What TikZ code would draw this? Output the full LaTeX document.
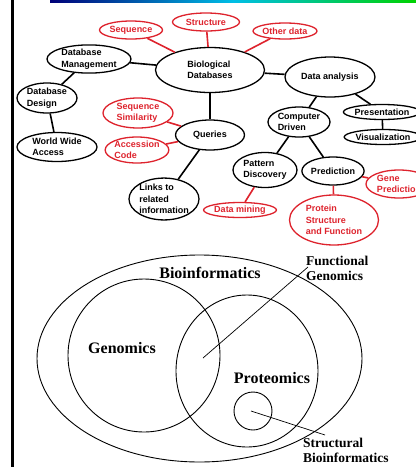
\documentclass[tikz,border=0pt]{standalone}
\usepackage{fontspec}
\setmainfont{Liberation Serif}
\setsansfont{Liberation Sans}
\usetikzlibrary{shapes.geometric}
\definecolor{ccred}{RGB}{222,35,45}
\definecolor{navyb}{RGB}{0,0,120}
\definecolor{cyanb}{RGB}{0,190,230}
\definecolor{greenb}{RGB}{0,210,0}
\newcommand\topf{\sffamily\bfseries\fontsize{9}{11.5}\selectfont}
\newcommand\bigf{\rmfamily\bfseries\fontsize{16}{18}\selectfont}
\newcommand\smf{\rmfamily\bfseries\fontsize{13.5}{15}\selectfont}
\tikzset{
  bk/.style={ellipse, draw=black, line width=1.3pt, inner sep=0pt, font=\topf, align=left},
  rd/.style={ellipse, draw=ccred, text=ccred, line width=1.3pt, inner sep=0pt, font=\topf, align=left},
  bcon/.style={draw=black, line width=1.6pt},
  rcon/.style={draw=ccred, line width=1.6pt},
  venn/.style={ellipse, draw=black, line width=0.9pt, inner sep=0pt},
  vbig/.style={font=\bigf, inner sep=0pt},
  vsm/.style={font=\smf, inner sep=0pt, align=left},
  lead/.style={draw=black, line width=0.7pt}
}
\begin{document}
\begin{tikzpicture}[x=1pt,y=-1pt]
\useasboundingbox (0,0) rectangle (416,467);
\fill[white] (0,0) rectangle (416,467);
% top gradient rule and left border
\shade[left color=navyb, right color=greenb, middle color=cyanb] (50,0) rectangle (416,2);
\fill[black] (11,0) rectangle (14,467);

% ---- concept map ----
\node[bk, minimum width=109pt, minimum height=45pt] (bio) at (210,70) {Biological\\Databases};
\node[rd, minimum width=63pt, minimum height=18pt] (seq) at (131,30) {Sequence};
\node[rd, minimum width=67pt, minimum height=18pt] (str) at (206,22) {Structure};
\node[rd, minimum width=64pt, minimum height=16pt] (oth) at (285,31) {Other data};
\node[bk, minimum width=84pt, minimum height=25pt] (dbm) at (89,59) {Database\\Management};
\node[bk, minimum width=60pt, minimum height=30pt] (dbd) at (47,98) {Database\\Design};
\node[bk, minimum width=80pt, minimum height=29pt] (www) at (57,147) {World Wide\\Access};
\node[rd, minimum width=70pt, minimum height=30pt] (ssim) at (138,113) {Sequence\\Similarity};
\node[rd, minimum width=57pt, minimum height=26pt] (acc) at (137,150) {Accession\\Code};
\node[bk, minimum width=69pt, minimum height=30pt] (qry) at (210,135) {Queries};
\node[bk, minimum width=70pt, minimum height=38pt] (lnk) at (164,199) {Links to\\related\\information};
\node[bk, minimum width=90pt, minimum height=40pt] (dan) at (330,77) {Data analysis};
\node[bk, minimum width=62pt, minimum height=30pt] (cdr) at (299,122) {Computer\\Driven};
\node[bk, minimum width=69pt, minimum height=15pt] (pre) at (382,112) {Presentation};
\node[bk, minimum width=67pt, minimum height=15pt] (vis) at (383,137) {Visualization};
\node[bk, minimum width=64pt, minimum height=35pt] (pat) at (265,170) {Pattern\\Discovery};
\node[bk, minimum width=62pt, minimum height=28pt] (prd) at (333,171) {Prediction};
\node[rd, minimum width=66pt, minimum height=28pt] (gen) at (399,184) {Gene\\Prediction};
\node[rd, minimum width=67pt, minimum height=15pt] (dmn) at (240,210) {Data mining};
\node[rd, minimum width=89pt, minimum height=50pt] (pro) at (334,220) {Protein\\Structure\\and Function};

\draw[rcon] (seq) -- (bio);
\draw[rcon] (str) -- (bio);
\draw[rcon] (oth) -- (bio);
\draw[bcon] (dbm) -- (bio);
\draw[bcon] (dbm) -- (dbd);
\draw[bcon] (dbd) -- (www);
\draw[bcon] (bio) -- (dan);
\draw[bcon] (bio) -- (qry);
\draw[rcon] (qry) -- (ssim);
\draw[rcon] (qry) -- (acc);
\draw[bcon] (qry) -- (lnk);
\draw[bcon] (dan) -- (cdr);
\draw[bcon] (dan) -- (pre);
\draw[bcon] (pre) -- (vis);
\draw[bcon] (cdr) -- (pat);
\draw[bcon] (cdr) -- (prd);
\draw[rcon] (pat) -- (dmn);
\draw[rcon] (prd) -- (gen);
\draw[rcon] (prd) -- (pro);

% ---- Venn diagram ----
\node[venn, minimum width=325pt, minimum height=207pt] (outer) at (199.5,358.5) {};
\node[venn, minimum width=152pt, minimum height=153pt] (gcirc) at (144,355.5) {};
\node[venn, minimum width=142pt, minimum height=152pt] (pcirc) at (247,371) {};
\node[venn, minimum width=38pt, minimum height=38pt] (scirc) at (253,411) {};
\node[vbig] (bioinf) at (210,273) {Bioinformatics};
\node[vbig] (genom) at (122,348) {Genomics};
\node[vbig] (prot) at (272,378) {Proteomics};
\node[vsm, anchor=west] (fg) at (306,268) {Functional\\Genomics};
\node[vsm, anchor=west] (sb) at (303,450) {Structural\\Bioinformatics};
\coordinate (fgin) at (203,358);
\coordinate (fgend) at (308,267);
\coordinate (sbin) at (251,411);
\coordinate (sbend) at (325,435);
\draw[lead] (fgin) -- (fgend);
\draw[lead] (sbin) -- (sbend);
\end{tikzpicture}
\end{document}
